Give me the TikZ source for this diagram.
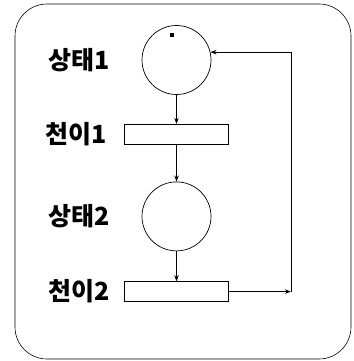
\documentclass[tikz,border=0pt]{standalone}
\usepackage{fontspec}
\newfontfamily\kofont{Noto Sans CJK KR}
\usetikzlibrary{shapes,arrows.meta,positioning}

\begin{document}
\begin{tikzpicture}[x=1pt, y=-1pt,
    place/.style={circle, draw, line width=0.7pt, minimum size=69pt, inner sep=0pt},
    trans/.style={rectangle, draw, line width=0.7pt, minimum width=104pt, minimum height=20pt, inner sep=0pt},
    token/.style={rectangle, fill, minimum size=3.5pt, inner sep=0pt},
    lbl/.style={font=\kofont\bfseries\fontsize{25}{28}\selectfont, inner sep=0pt},
    arrow/.style={-{Stealth[length=6pt,width=4.5pt]}, line width=0.7pt}
]
\useasboundingbox (0,0) rectangle (353,361);
% frame
\draw[line width=0.6pt, rounded corners=32pt] (15,4) rectangle (351,359);

% net
\node[place] (s1) at (176.5,60) {};
\node[trans, below=29pt of s1] (t1) {};
\node[place, below=37pt of t1] (s2) {};
\node[trans, below=30pt of s2] (t2) {};
\node[token] (tok) at ([xshift=-4.5pt,yshift=25pt]s1.center) {};

% labels
\node[lbl, left=32pt of s1] (l1) {상태1};
\node[lbl, left=17pt of t1] (l2) {천이1};
\node[lbl, left=32pt of s2] (l3) {상태2};
\node[lbl, left=14pt of t2] (l4) {천이2};

\coordinate (back) at ([xshift=62pt]t2.east);

\draw[arrow] (s1) -- (t1);
\draw[arrow] (t1) -- (s2);
\draw[arrow] (s2) -- (t2);
\draw[arrow] (t2.east) -- (back);
\draw[arrow] (back) |- (s1.13);
\end{tikzpicture}
\end{document}
